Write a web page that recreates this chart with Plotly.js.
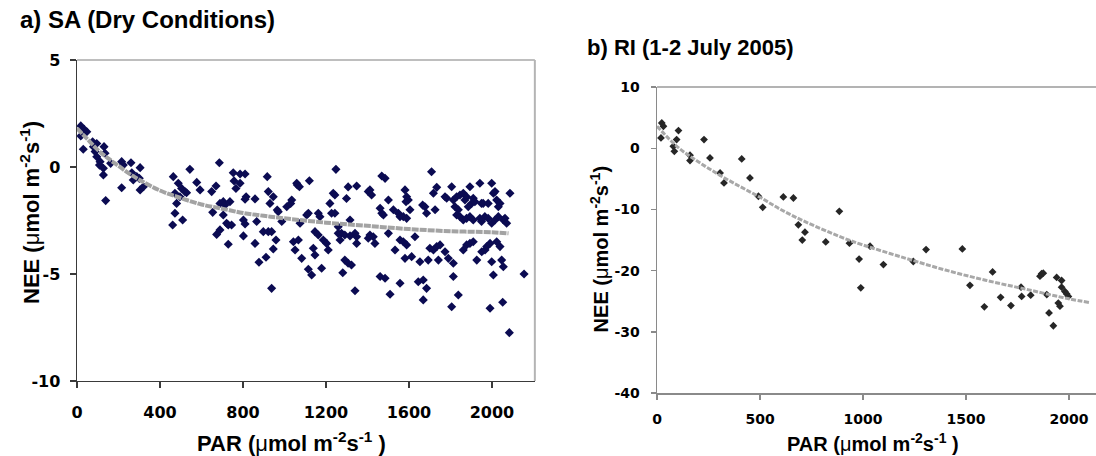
<!DOCTYPE html>
<html>
<head>
<meta charset="utf-8">
<script src="https://cdn.plot.ly/plotly-3.0.1.min.js"></script>
<style>html,body{margin:0;padding:0;background:#fff;}#chart{width:1096px;height:456px;}</style>
</head>
<body>
<div id="chart"></div>
<script>
// ---- Panel a) SA (Dry Conditions): observed NEE vs PAR ----
const saPAR = [18,34,47,18,30,75,95,79,87,95,130,135,111,127,127,138,108,162,215,223,260,304,215,264,271,288,300,304,320,
464,472,480,472,461,488,496,504,509,520,528,544,577,593,649,670,654,689,705,713,705,673,689,721,729,745,737,729,686,
753,786,810,757,786,766,815,810,802,810,802,858,866,858,898,922,938,917,922,946,930,965,970,987,959,
1011,1030,1035,1059,1062,1072,1075,1043,1067,1120,1107,1115,1163,1171,1147,1163,1187,1203,1248,1235,1243,1219,1227,1243,
1259,1259,1275,1291,1299,1307,1348,1340,1348,1316,
877,911,946,938,1051,1083,1115,1131,1179,1139,1147,1211,1268,1281,1291,1307,1323,1316,1340,1348,
1404,1412,1428,1436,1461,1485,1501,1509,1533,1557,1573,1589,1581,1557,1613,1629,1645,1669,1685,1669,1653,1693,1701,1718,
1734,1742,1750,1774,1790,1814,1814,1806,1838,1862,1878,1894,1910,1927,1951,1967,1975,1991,2007,1999,2023,2039,2047,2055,
2052,1991,2084,2155,
1404,1420,1412,1469,1485,1501,1469,1461,1477,1525,1549,1557,1581,1589,1597,1586,1573,1589,1605,1666,1677,1685,1709,1718,
1734,1726,1774,1782,1806,1814,1822,1830,1838,1846,1862,1870,1878,1886,1894,1902,1910,1918,1942,1950,1958,1982,1999,2007,
2015,2023,2031,2039,2055,2063,2071,2087,1830,1846,1862,1878,1894,1910,1942,1950,1966,1982,1999,2015,2031];
const saNEE = [1.92,1.76,1.65,1.45,0.83,1.18,1.1,0.95,0.72,0.48,0.95,0.64,0.25,-0.06,-0.37,-1.57,0.09,0.17,0.25,0.09,0.2,-0.03,-0.97,-0.27,-0.61,-0.45,-0.53,-1.07,-0.92,
-0.45,-1.23,-1.7,-2.16,-2.71,-0.76,-1.39,-1.0,-2.48,-1.15,-1.2,-0.11,-0.72,-1.07,-1.15,-0.89,-2.12,-1.7,-1.62,-1.78,-2.24,-3.15,-2.94,-2.63,-2.71,-2.71,-1.62,-3.61,0.2,
-0.27,-0.33,-0.33,-0.65,-0.76,-1.0,-1.39,-1.51,-2.48,-2.66,-3.22,-1.49,-2.55,-3.57,-3.02,-3.02,-3.02,-0.45,-1.15,-1.39,-1.7,-2.01,-2.09,-2.55,-3.41,
-1.86,-1.7,-1.54,-0.76,-0.84,-0.92,-2.63,-3.49,-3.41,-0.64,-2.24,-2.16,-2.16,-2.32,-3.02,-3.18,-3.41,-3.57,-0.11,-1.23,-1.31,-1.7,-2.16,-2.16,
-2.79,-3.1,-3.1,-3.18,-1.47,-0.93,-0.89,-3.1,-3.57,-2.48,
-4.45,-4.22,-3.83,-5.67,-3.88,-4.27,-4.78,-5.05,-4.73,-3.8,-4.11,-3.88,-3.41,-4.94,-4.35,-4.5,-4.58,-3.22,-5.78,-3.26,
-3.33,-3.18,-3.26,-3.57,-5.12,-5.2,-3.1,-5.95,-3.88,-3.41,-3.49,-3.64,-4.27,-5.43,-4.19,-3.26,-5.36,-5.28,-5.67,-6.21,-4.43,-4.35,-3.8,-3.88,
-3.72,-4.35,-3.64,-3.96,-4.27,-4.5,-5.12,-6.53,-5.98,-3.88,-3.64,-3.57,-3.49,-4.35,-3.96,-3.88,-3.72,-3.57,-5.05,-4.43,-3.49,-3.72,-4.35,-4.66,
-6.32,-6.6,-7.74,-5.0,
-1.15,-1.31,-1.07,-0.42,-0.53,-1.54,-2.16,-1.93,-2.24,-2.0,-2.16,-2.32,-1.07,-1.39,-1.54,-1.62,-2.32,-2.4,-2.0,-1.78,-1.86,-2.16,-0.22,-1.23,
-0.95,-2.0,-1.39,-1.46,-0.92,-1.54,-1.86,-1.39,-2.0,-1.31,-1.23,-1.54,-1.39,-1.86,-0.92,-1.7,-1.46,-1.62,-0.76,-1.7,-1.7,-1.7,-0.76,-1.23,
-1.15,-1.54,-1.86,-1.7,-2.48,-2.4,-2.63,-1.23,-2.24,-2.32,-2.48,-2.4,-2.32,-2.48,-2.4,-2.55,-2.32,-2.4,-2.63,-2.48,-2.32];
// fitted curve
const saFitPAR = [0,50,100,150,200,250,300,400,500,600,700,800,900,1000,1200,1400,1600,1800,2000,2080];
const saFitNEE = [1.8,1.3,0.8,0.4,0.05,-0.3,-0.6,-1.1,-1.45,-1.75,-1.95,-2.15,-2.28,-2.4,-2.6,-2.75,-2.9,-3.0,-3.05,-3.1];

// ---- Panel b) RI (1-2 July 2005) ----
const riPAR = [23,31,19,79,84,95,104,160,160,228,257,306,325,411,451,492,513,613,662,686,718,705,819,885,934,981,989,1099,
1306,1482,1519,1629,1589,1668,1718,1767,1770,1814,1859,1867,1875,1903,1924,1940,1964,1964,1980,1989,1997,1948,1956,1892,1034,1244];
const riNEE = [4.13,3.6,1.7,0.33,-0.5,1.42,2.9,-1.14,-2.0,1.42,-1.58,-4.03,-5.66,-1.74,-4.85,-7.84,-9.64,-7.95,-8.12,-12.5,-13.7,-15.0,-15.3,-10.3,-15.5,-18.1,-22.8,-19.0,
-16.55,-16.45,-22.4,-20.2,-25.9,-24.35,-25.7,-22.7,-24.2,-24.0,-20.9,-20.5,-20.4,-26.9,-29.0,-21.1,-21.6,-22.7,-23.4,-23.8,-24.2,-25.3,-25.8,-23.9,-16.0,-18.5];
const riFitPAR = [0,100,200,300,400,500,600,700,800,900,1000,1200,1400,1600,1800,2000,2100];
const riFitNEE = [3.6,0.2,-2.2,-4.3,-6.2,-8.0,-10.0,-11.7,-13.2,-14.6,-15.8,-17.9,-19.9,-21.6,-23.1,-24.6,-25.2];

// tick labels
const saXTicks = [0,400,800,1200,1600,2000];
const saYTicks = [5,0,-5,-10];
const riXTicks = [0,500,1000,1500,2000];
const riYTicks = [10,0,-10,-20,-30,-40];

const TF = 'Liberation Sans, Arial, sans-serif';
const TICKF = 'DejaVu Sans, sans-serif';

const traces = [
  {x: saPAR, y: saNEE, type: 'scatter', mode: 'markers', xaxis: 'x', yaxis: 'y',
   marker: {symbol: 'diamond', size: 7, color: '#0b0b52'}, hoverinfo: 'skip'},
  {x: saFitPAR, y: saFitNEE, type: 'scatter', mode: 'lines', xaxis: 'x', yaxis: 'y',
   line: {color: '#a3a3a3', width: 4, dash: '7px,1px', shape: 'spline'}, hoverinfo: 'skip'},
  {x: riPAR, y: riNEE, type: 'scatter', mode: 'markers', xaxis: 'x2', yaxis: 'y2',
   marker: {symbol: 'diamond', size: 6, color: '#262626'}, hoverinfo: 'skip'},
  {x: riFitPAR, y: riFitNEE, type: 'scatter', mode: 'lines', xaxis: 'x2', yaxis: 'y2',
   line: {color: '#a8a8a8', width: 3, dash: '5px,1.5px', shape: 'spline'}, hoverinfo: 'skip'}
];

const axBase = {showgrid: false, zeroline: false, showline: true, ticks: 'outside', fixedrange: true};

const layout = {
  width: 1096, height: 456,
  margin: {l: 0, r: 0, t: 0, b: 0},
  paper_bgcolor: '#ffffff', plot_bgcolor: '#ffffff',
  showlegend: false,
  xaxis: Object.assign({}, axBase, {
    domain: [0.0703, 0.488], range: [0, 2207], tickvals: saXTicks, ticktext: saXTicks.map(String),
    anchor: 'y', linecolor: '#3a3a3a', linewidth: 1.5, tickcolor: '#3a3a3a', ticklen: 6, tickwidth: 1.3,
    tickfont: {family: TICKF, size: 16, color: '#000', weight: 'bold'}, ticklabelstandoff: 10
  }),
  yaxis: Object.assign({}, axBase, {
    domain: [0.1645, 0.8684], range: [-10, 5], tickvals: saYTicks, ticktext: saYTicks.map(String),
    anchor: 'x', linecolor: '#3a3a3a', linewidth: 1.5, tickcolor: '#3a3a3a', ticklen: 6, tickwidth: 1.3,
    tickfont: {family: TICKF, size: 16, color: '#000', weight: 'bold'}, ticklabelstandoff: 6
  }),
  xaxis2: Object.assign({}, axBase, {
    domain: [0.5995, 1.0], range: [0, 2131], tickvals: riXTicks, ticktext: riXTicks.map(String),
    anchor: 'y2', linecolor: '#8a8a8a', linewidth: 1.5, tickcolor: '#8a8a8a', ticklen: 5, tickwidth: 1.3,
    tickfont: {family: TICKF, size: 14, color: '#000', weight: 'bold'}, ticklabelstandoff: 8
  }),
  yaxis2: Object.assign({}, axBase, {
    domain: [0.138, 0.809], range: [-40, 10], tickvals: riYTicks, ticktext: riYTicks.map(String),
    anchor: 'x2', linecolor: '#8a8a8a', linewidth: 1.5, tickcolor: '#8a8a8a', ticklen: 5, tickwidth: 1.3,
    tickfont: {family: TICKF, size: 14, color: '#000', weight: 'bold'}, ticklabelstandoff: 8
  }),
  shapes: [
    {type: 'line', xref: 'x domain', yref: 'y domain', x0: 0, x1: 1, y0: 1, y1: 1, line: {color: '#a8a8a8', width: 1.5}},
    {type: 'line', xref: 'x domain', yref: 'y domain', x0: 1, x1: 1, y0: 0, y1: 1, line: {color: '#b4b4b4', width: 2}},
    {type: 'line', xref: 'x2 domain', yref: 'y2 domain', x0: 0, x1: 1, y0: 1, y1: 1, line: {color: '#9a9a9a', width: 1.5}}
  ],
  annotations: [
    {text: 'a) SA (Dry Conditions)', xref: 'paper', yref: 'paper', x: 0.0164, y: 0.958, xanchor: 'left', yanchor: 'middle',
     showarrow: false, font: {family: TF, size: 24, color: '#000', weight: 'bold'}},
    {text: 'b) RI (1-2 July 2005)', xref: 'paper', yref: 'paper', x: 0.5338, y: 0.895, xanchor: 'left', yanchor: 'middle',
     showarrow: false, font: {family: TF, size: 22, color: '#000', weight: 'bold'}},
    {text: 'PAR (<span style="font-weight:normal">μ</span>mol m<sup>-2</sup>s<sup>-1</sup> )', xref: 'paper', yref: 'paper',
     x: 0.266, y: 0.03, xanchor: 'center', yanchor: 'middle', showarrow: false,
     font: {family: TF, size: 22, color: '#000', weight: 'bold'}},
    {text: 'NEE (<span style="font-weight:normal">μ</span>mol m<sup>-2</sup>s<sup>-1</sup>)', xref: 'paper', yref: 'paper',
     x: 0.0274, y: 0.533, xanchor: 'center', yanchor: 'middle', textangle: -90, showarrow: false,
     font: {family: TF, size: 22, color: '#000', weight: 'bold'}},
    {text: 'PAR (<span style="font-weight:normal">μ</span>mol m<sup>-2</sup>s<sup>-1</sup> )', xref: 'paper', yref: 'paper',
     x: 0.7965, y: 0.03, xanchor: 'center', yanchor: 'middle', showarrow: false,
     font: {family: TF, size: 20, color: '#000', weight: 'bold'}},
    {text: 'NEE (<span style="font-weight:normal">μ</span>mol m<sup>-2</sup>s<sup>-1</sup>)', xref: 'paper', yref: 'paper',
     x: 0.547, y: 0.452, xanchor: 'center', yanchor: 'middle', textangle: -90, showarrow: false,
     font: {family: TF, size: 20, color: '#000', weight: 'bold'}}
  ]
};

Plotly.newPlot('chart', traces, layout, {staticPlot: true, displayModeBar: false});
</script>
</body>
</html>
